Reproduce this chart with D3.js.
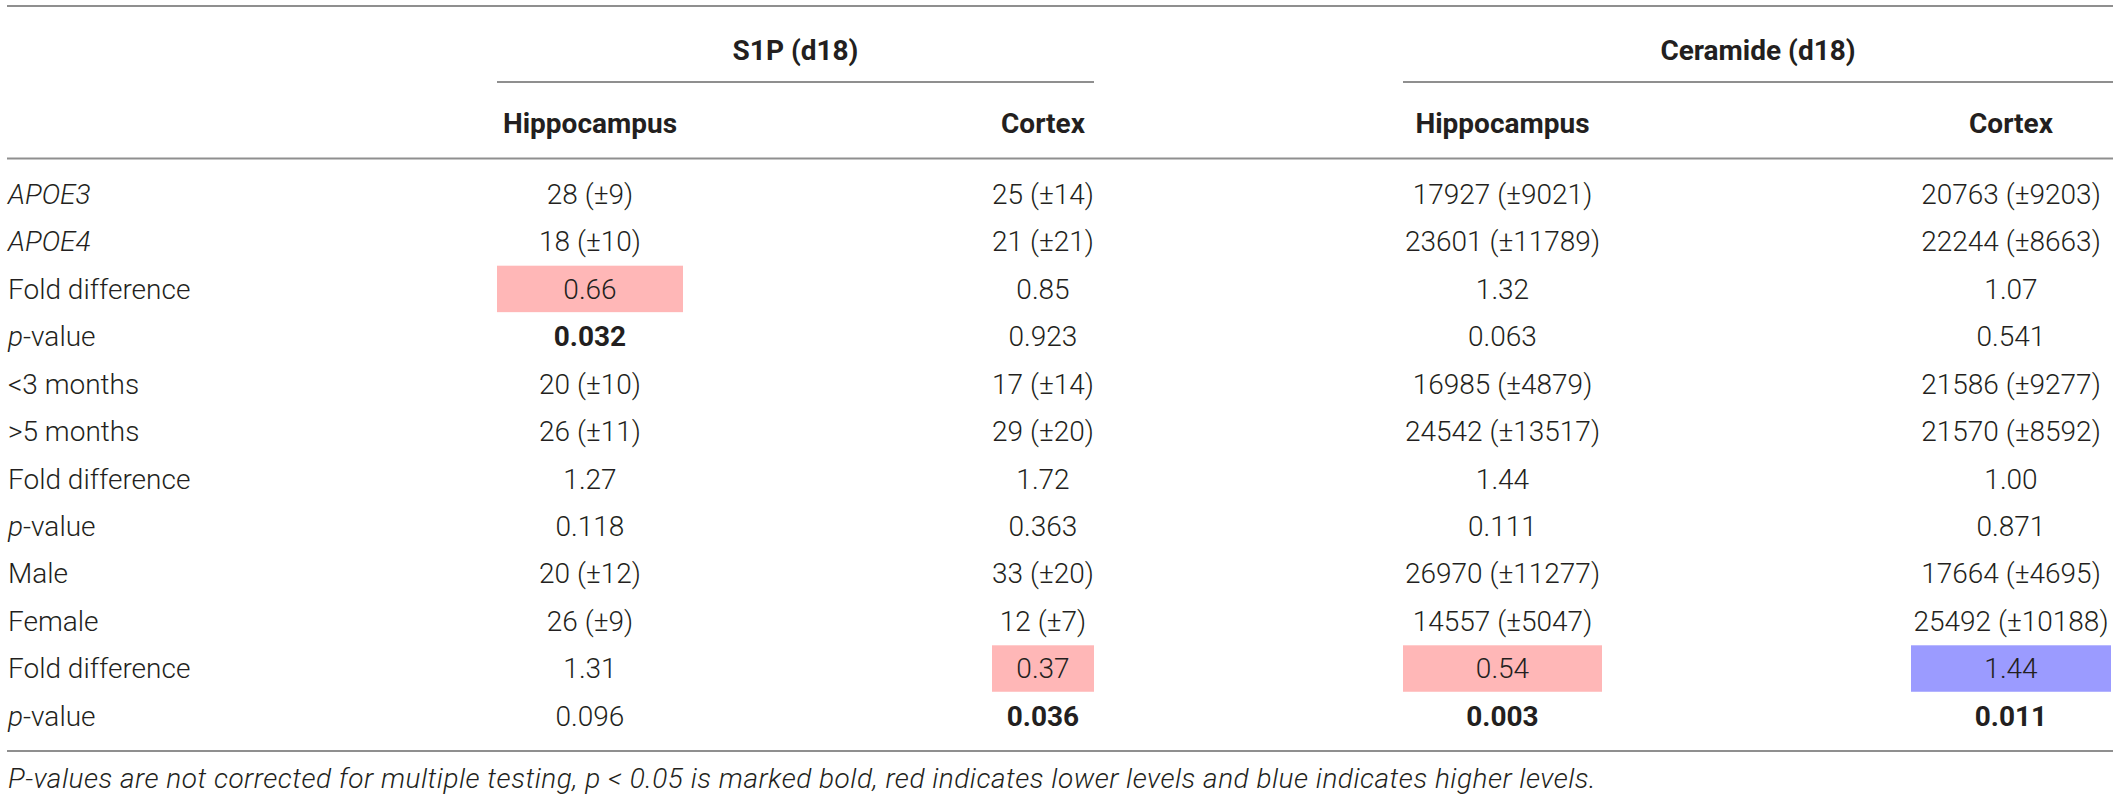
<!DOCTYPE html>
<html>
<head>
<meta charset="utf-8">
<script src="https://cdn.jsdelivr.net/npm/d3@7"></script>
<style>
  html, body { margin: 0; padding: 0; background: #fff; }
  svg { display: block; }
  text { font-family: Roboto, "Liberation Sans", Arial, sans-serif; fill: #231f20; }
</style>
</head>
<body>
<svg id="chart" width="2120" height="799"></svg>
<script>
// ---- data ----
const groups = ["S1P (d18)", "Ceramide (d18)"];
const columns = ["Hippocampus", "Cortex", "Hippocampus", "Cortex"];
const rowLabels = ["APOE3", "APOE4", "Fold difference", "p-value",
                   "<3 months", ">5 months", "Fold difference", "p-value",
                   "Male", "Female", "Fold difference", "p-value"];
const s1pHippocampus = ["28 (±9)", "18 (±10)", "0.66", "0.032", "20 (±10)", "26 (±11)", "1.27", "0.118", "20 (±12)", "26 (±9)", "1.31", "0.096"];
const s1pCortex = ["25 (±14)", "21 (±21)", "0.85", "0.923", "17 (±14)", "29 (±20)", "1.72", "0.363", "33 (±20)", "12 (±7)", "0.37", "0.036"];
const ceramideHippocampus = ["17927 (±9021)", "23601 (±11789)", "1.32", "0.063", "16985 (±4879)", "24542 (±13517)", "1.44", "0.111", "26970 (±11277)", "14557 (±5047)", "0.54", "0.003"];
const ceramideCortex = ["20763 (±9203)", "22244 (±8663)", "1.07", "0.541", "21586 (±9277)", "21570 (±8592)", "1.00", "0.871", "17664 (±4695)", "25492 (±10188)", "1.44", "0.011"];
// highlights: [row, column, "lower"/"higher"]
const highlights = [[2, 0, "lower"], [10, 1, "lower"], [10, 2, "lower"], [10, 3, "higher"]];
// significant p-values (bold): [row, column]
const boldCells = [[3, 0], [11, 1], [11, 2], [11, 3]];
const footnote = "P-values are not corrected for multiple testing, p < 0.05 is marked bold, red indicates lower levels and blue indicates higher levels.";

// ---- layout ----
const values = [s1pHippocampus, s1pCortex, ceramideHippocampus, ceramideCortex];
const colExtent = [[497, 683], [992, 1094], [1403, 1602], [1911, 2111]];
const groupCols = [[0, 1], [2, 3]];
const FS = 28;
const lineColor = "#8f8f8f";

const svg = d3.select("#chart");

const y = d3.scaleBand().domain(d3.range(rowLabels.length)).range([170.3, 739.7]).padding(0);
const colLeft = d3.scaleOrdinal().domain(d3.range(columns.length)).range(colExtent.map(d => d[0]));
const colRight = d3.scaleOrdinal().domain(d3.range(columns.length)).range(colExtent.map(d => d[1]));
const colCenter = i => (colLeft(i) + colRight(i)) / 2;
const colorScale = d3.scaleOrdinal().domain(["lower", "higher"]).range(["#ffb7b7", "#9b9bff"]);

// rules
const hline = (x1, x2, yy) => svg.append("line").attr("x1", x1).attr("x2", x2)
  .attr("y1", yy).attr("y2", yy).attr("stroke", lineColor).attr("stroke-width", 2);
hline(7, 2113, 6);
hline(7, 2113, 158.5);
hline(7, 2113, 751);
groupCols.forEach((gc, gi) => {
  hline(colLeft(gc[0]), gc[1] === 3 ? 2113 : colRight(gc[1]), 82);
});

// group headers
svg.selectAll("text.group").data(groups).join("text")
  .attr("class", "group")
  .attr("x", (d, i) => { const gc = groupCols[i]; return (colLeft(gc[0]) + (gc[1] === 3 ? 2113 : colRight(gc[1]))) / 2; })
  .attr("y", 50).attr("dy", "0.35em")
  .attr("text-anchor", "middle").attr("font-weight", 700).attr("font-size", FS)
  .text(d => d);

// column headers
svg.selectAll("text.colhead").data(columns).join("text")
  .attr("class", "colhead")
  .attr("x", (d, i) => colCenter(i))
  .attr("y", 123).attr("dy", "0.35em")
  .attr("text-anchor", "middle").attr("font-weight", 700).attr("font-size", FS)
  .text(d => d);

// highlight cells
svg.selectAll("rect.hl").data(highlights).join("rect")
  .attr("class", "hl")
  .attr("x", d => colLeft(d[1]))
  .attr("width", d => colRight(d[1]) - colLeft(d[1]))
  .attr("y", d => y(d[0]) + 0.5)
  .attr("height", y.bandwidth() - 1)
  .attr("fill", d => colorScale(d[2]));

// row labels
const lab = svg.selectAll("text.rowlab").data(rowLabels).join("text")
  .attr("class", "rowlab")
  .attr("x", 8)
  .attr("y", (d, i) => y(i) + y.bandwidth() / 2).attr("dy", "0.35em")
  .attr("font-size", FS).attr("font-weight", 300);
lab.each(function(d) {
  const t = d3.select(this);
  if (d.startsWith("APOE")) {
    t.attr("font-style", "italic").text(d);
  } else if (d === "p-value") {
    t.append("tspan").attr("font-style", "italic").text("p");
    t.append("tspan").text("-value");
  } else {
    t.text(d);
  }
});

// cell values
const isBold = (r, c) => boldCells.some(b => b[0] === r && b[1] === c);
values.forEach((col, ci) => {
  svg.selectAll("text.c" + ci).data(col).join("text")
    .attr("class", "c" + ci)
    .attr("x", colCenter(ci))
    .attr("y", (d, ri) => y(ri) + y.bandwidth() / 2).attr("dy", "0.35em")
    .attr("text-anchor", "middle").attr("font-size", FS)
    .attr("font-weight", (d, ri) => isBold(ri, ci) ? 700 : 300)
    .text(d => d);
});

// footnote
svg.append("text").attr("x", 8).attr("y", 778).attr("dy", "0.35em")
  .attr("font-size", 28).attr("letter-spacing", 0.5).attr("font-style", "italic").attr("font-weight", 300)
  .text(footnote);
</script>
</body>
</html>
